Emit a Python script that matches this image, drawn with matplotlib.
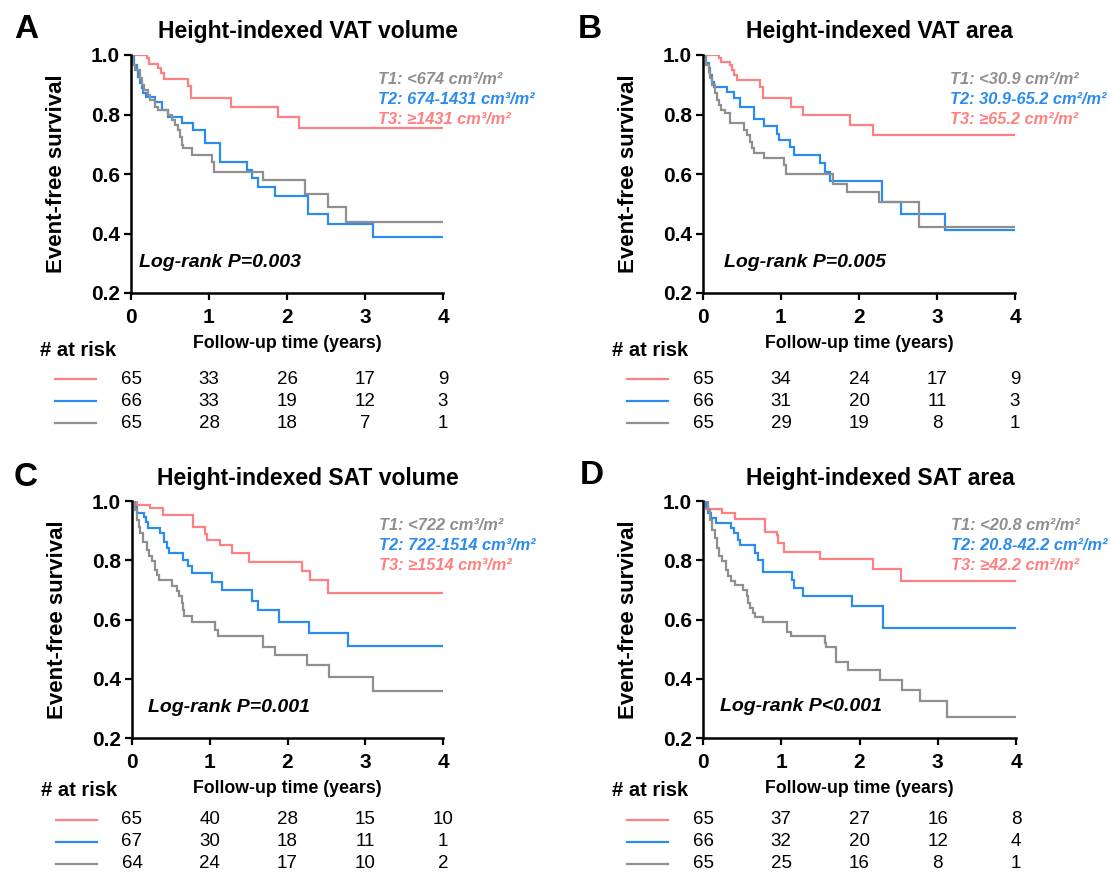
import numpy as np
import matplotlib
matplotlib.use("Agg")
import matplotlib.pyplot as plt
import matplotlib.transforms as mtransforms

plt.rcParams['font.family'] = ['Liberation Sans', 'DejaVu Sans']

# Colours of the three tertiles
c_t1 = '#8f8f8f'
c_t2 = '#2b8cf0'
c_t3 = '#ff8080'

#------------------------------------------------------------------------------
# Kaplan-Meier step data (time in years, survival after each drop)
#------------------------------------------------------------------------------

# Panel A: height-indexed VAT volume
a_t3_time = [0.20, 0.23, 0.35, 0.385, 0.427, 0.726, 0.769, 1.282, 1.89, 2.16]
a_t3_surv = [0.99, 0.97, 0.955, 0.94, 0.92, 0.897, 0.854, 0.826, 0.793, 0.755]
a_t2_time = [0.043, 0.073, 0.094, 0.115, 0.137, 0.158, 0.188, 0.308, 0.402, 0.47, 0.65, 0.80,
             0.949, 1.141, 1.483, 1.547, 1.632, 1.846, 2.27, 2.52, 3.10]
a_t2_surv = [0.966, 0.95, 0.927, 0.905, 0.888, 0.871, 0.86, 0.843, 0.815, 0.793, 0.77, 0.748,
             0.703, 0.641, 0.613, 0.585, 0.557, 0.526, 0.466, 0.433, 0.388]
a_t1_time = [0.03, 0.05, 0.115, 0.137, 0.171, 0.214, 0.244, 0.308, 0.35, 0.479, 0.521, 0.564,
             0.598, 0.628, 0.65, 0.671, 0.778, 1.043, 1.068, 1.697, 2.23, 2.53, 2.76]
a_t1_surv = [0.966, 0.95, 0.922, 0.899, 0.882, 0.866, 0.849, 0.826, 0.815, 0.798, 0.782, 0.765,
             0.748, 0.725, 0.697, 0.686, 0.664, 0.641, 0.608, 0.58, 0.534, 0.489, 0.438]

# Panel B: height-indexed VAT area
b_t3_time = [0.20, 0.23, 0.35, 0.372, 0.402, 0.436, 0.726, 0.769, 1.128, 1.282, 1.89, 2.177]
b_t3_surv = [0.989, 0.978, 0.966, 0.95, 0.934, 0.916, 0.894, 0.854, 0.826, 0.798, 0.765, 0.73]
b_t2_time = [0.043, 0.073, 0.094, 0.115, 0.137, 0.308, 0.393, 0.47, 0.658, 0.778, 0.949, 0.97,
             1.12, 1.162, 1.504, 1.568, 1.632, 2.292, 2.536, 3.104]
b_t2_surv = [0.972, 0.955, 0.933, 0.91, 0.894, 0.877, 0.854, 0.826, 0.785, 0.762, 0.736, 0.714,
             0.692, 0.664, 0.636, 0.608, 0.576, 0.506, 0.464, 0.413]
b_t1_time = [0.043, 0.073, 0.094, 0.115, 0.158, 0.179, 0.20, 0.231, 0.286, 0.342, 0.521, 0.564,
             0.598, 0.628, 0.658, 0.778, 1.043, 1.068, 1.673, 1.844, 2.25, 2.775]
b_t1_surv = [0.966, 0.944, 0.922, 0.899, 0.871, 0.849, 0.832, 0.815, 0.804, 0.77, 0.748, 0.731,
             0.709, 0.686, 0.67, 0.653, 0.63, 0.599, 0.567, 0.539, 0.506, 0.421]

# Panel C: height-indexed SAT volume
c_t3_time = [0.064, 0.235, 0.393, 0.79, 0.94, 0.96, 1.13, 1.28, 1.50, 2.182, 2.289, 2.524]
c_t3_surv = [0.987, 0.975, 0.953, 0.913, 0.89, 0.869, 0.852, 0.824, 0.795, 0.764, 0.735, 0.69]
c_t2_time = [0.034, 0.064, 0.15, 0.18, 0.205, 0.363, 0.406, 0.449, 0.47, 0.662, 0.718, 0.769,
             1.034, 1.154, 1.547, 1.624, 1.889, 2.28, 2.781]
c_t2_surv = [0.981, 0.958, 0.947, 0.93, 0.908, 0.891, 0.863, 0.84, 0.824, 0.802, 0.779, 0.756,
             0.728, 0.70, 0.661, 0.633, 0.593, 0.555, 0.51]
c_t1_time = [0.043, 0.064, 0.085, 0.107, 0.137, 0.192, 0.222, 0.256, 0.299, 0.32, 0.35, 0.513,
             0.577, 0.607, 0.641, 0.662, 0.675, 0.769, 1.068, 1.111, 1.69, 1.84, 2.246, 2.537,
             3.102]
c_t1_surv = [0.97, 0.936, 0.913, 0.891, 0.863, 0.835, 0.813, 0.796, 0.768, 0.751, 0.734, 0.712,
             0.695, 0.678, 0.656, 0.633, 0.612, 0.593, 0.565, 0.543, 0.508, 0.48, 0.446, 0.407,
             0.358]

# Panel D: height-indexed SAT area
d_t3_time = [0.043, 0.248, 0.406, 0.79, 0.94, 0.96, 1.034, 1.496, 2.175, 2.525]
d_t3_surv = [0.972, 0.958, 0.938, 0.897, 0.886, 0.858, 0.829, 0.803, 0.772, 0.73]
d_t2_time = [0.034, 0.064, 0.107, 0.171, 0.363, 0.393, 0.449, 0.47, 0.662, 0.705, 0.769, 1.132,
             1.162, 1.282, 1.902, 2.294]
d_t2_surv = [0.981, 0.958, 0.941, 0.927, 0.908, 0.891, 0.869, 0.852, 0.824, 0.802, 0.762, 0.734,
             0.706, 0.678, 0.644, 0.57]
d_t1_time = [0.064, 0.094, 0.12, 0.15, 0.18, 0.205, 0.248, 0.29, 0.32, 0.363, 0.406, 0.513,
             0.556, 0.577, 0.607, 0.641, 0.662, 0.769, 1.068, 1.12, 1.557, 1.578, 1.706, 1.855,
             2.26, 2.537, 2.772, 3.113]
d_t1_surv = [0.97, 0.936, 0.903, 0.874, 0.841, 0.813, 0.796, 0.768, 0.746, 0.729, 0.717, 0.70,
             0.678, 0.655, 0.638, 0.622, 0.61, 0.593, 0.559, 0.543, 0.519, 0.508, 0.457, 0.429,
             0.396, 0.362, 0.326, 0.27]

#------------------------------------------------------------------------------
# Numbers at risk at 0, 1, 2, 3, 4 years (T3, T2, T1)
#------------------------------------------------------------------------------
risk_years = [0, 1, 2, 3, 4]
a_risk = [[65, 33, 26, 17, 9], [66, 33, 19, 12, 3], [65, 28, 18, 7, 1]]
b_risk = [[65, 34, 24, 17, 9], [66, 31, 20, 11, 3], [65, 29, 19, 8, 1]]
c_risk = [[65, 40, 28, 15, 10], [67, 30, 18, 11, 1], [64, 24, 17, 10, 2]]
d_risk = [[65, 37, 27, 16, 8], [66, 32, 20, 12, 4], [65, 25, 16, 8, 1]]

# Labels
panel_letters = ['A', 'B', 'C', 'D']
panel_titles = ['Height-indexed VAT volume', 'Height-indexed VAT area',
                'Height-indexed SAT volume', 'Height-indexed SAT area']
tertile_labels = [
    ['T1: <674 cm³/m²', 'T2: 674-1431 cm³/m²', 'T3: ≥1431 cm³/m²'],
    ['T1: <30.9 cm²/m²', 'T2: 30.9-65.2 cm²/m²', 'T3: ≥65.2 cm²/m²'],
    ['T1: <722 cm³/m²', 'T2: 722-1514 cm³/m²', 'T3: ≥1514 cm³/m²'],
    ['T1: <20.8 cm²/m²', 'T2: 20.8-42.2 cm²/m²', 'T3: ≥42.2 cm²/m²'],
]
logrank_text = ['Log-rank P=0.003', 'Log-rank P=0.005', 'Log-rank P=0.001', 'Log-rank P<0.001']

curves = [
    [(a_t3_time, a_t3_surv), (a_t2_time, a_t2_surv), (a_t1_time, a_t1_surv)],
    [(b_t3_time, b_t3_surv), (b_t2_time, b_t2_surv), (b_t1_time, b_t1_surv)],
    [(c_t3_time, c_t3_surv), (c_t2_time, c_t2_surv), (c_t1_time, c_t1_surv)],
    [(d_t3_time, d_t3_surv), (d_t2_time, d_t2_surv), (d_t1_time, d_t1_surv)],
]
risks = [a_risk, b_risk, c_risk, d_risk]

#------------------------------------------------------------------------------
# Figure
#------------------------------------------------------------------------------
W, H = 1111, 877
fig = plt.figure(figsize=(W / 100, H / 100), dpi=100)

# axes boxes in pixels: left, top(1.0), right(4), bottom(0.2)
boxes = [(131, 55, 443, 293), (703, 55, 1015, 293),
         (132, 501, 443, 738), (703, 501, 1016, 738)]
letter_pos = [(26, 29), (590, 29), (26, 478), (592, 476)]
logrank_pos = [(0.026, 0.127), (0.067, 0.13), (0.05, 0.13), (0.054, 0.135)]
# pixel rows of the at-risk table: header, T3, T2, T1
risk_rows = [(350, 379, 401, 423), (350, 379, 401, 423),
             (791, 820, 842, 864), (791, 820, 842, 864)]

colors = [c_t3, c_t2, c_t1]
leg_colors = [c_t1, c_t2, c_t3]

for i in range(4):
    l, t, r, b = boxes[i]
    ax = fig.add_axes([l / W, 1 - b / H, (r - l) / W, (b - t) / H])

    for (tt, ss), col in zip(curves[i], colors):
        x = [0] + tt + [4]
        y = [1.0] + ss + [ss[-1]]
        ax.step(x, y, where='post', color=col, lw=1.6, solid_joinstyle='miter')

    ax.set_xlim(0, 4)
    ax.set_ylim(0.2, 1.0)
    ax.set_xticks([0, 1, 2, 3, 4])
    ax.set_yticks([0.2, 0.4, 0.6, 0.8, 1.0])
    ax.set_yticklabels(['0.2', '0.4', '0.6', '0.8', '1.0'])
    for s in ['top', 'right']:
        ax.spines[s].set_visible(False)
    for s in ['left', 'bottom']:
        ax.spines[s].set_linewidth(1.8)
    ax.tick_params(direction='out', length=5, width=1.6, labelsize=15, pad=3)
    ax.tick_params(axis='x', pad=6)
    for lab in ax.get_xticklabels() + ax.get_yticklabels():
        lab.set_fontweight('bold')

    ax.set_ylabel('Event-free survival', fontsize=16, fontweight='bold')
    ax.yaxis.set_label_coords(-0.205, 0.5)
    ax.set_xlabel('Follow-up time (years)', fontsize=12.8, fontweight='bold')
    ax.xaxis.set_label_coords(0.5, -0.178)

    ax.text(0.567, 1.097, panel_titles[i], transform=ax.transAxes, ha='center', va='center',
            fontsize=16.5, fontweight='bold')
    fig.text(letter_pos[i][0] / W, 1 - letter_pos[i][1] / H, panel_letters[i],
             ha='center', va='center', fontsize=24, fontweight='bold')

    for k, (lab, col) in enumerate(zip(tertile_labels[i], leg_colors)):
        ax.text(0.793, 0.897 - k * 0.084, lab, transform=ax.transAxes, ha='left', va='center',
                fontsize=11.8, fontweight='bold', style='italic', color=col)

    ax.text(logrank_pos[i][0], logrank_pos[i][1], logrank_text[i], transform=ax.transAxes,
            ha='left', va='center', fontsize=14, fontweight='bold', style='italic')

    # number at risk table
    rows = risk_rows[i]
    x_off = l - 131
    fig.text((40 + x_off) / W, 1 - rows[0] / H, '# at risk', ha='left', va='center',
             fontsize=14.5, fontweight='bold')
    trans_num = mtransforms.blended_transform_factory(ax.transData, fig.transFigure)
    for k in range(3):
        yk = 1 - rows[k + 1] / H
        fig.add_artist(plt.Line2D([(55 + x_off) / W, (96 + x_off) / W], [yk, yk],
                                  color=colors[k], lw=1.6))
        for yr, n in zip(risk_years, risks[i][k]):
            ax.text(yr, yk, str(n), transform=trans_num, ha='center', va='center',
                    fontsize=13.5, clip_on=False)

fig.savefig('out.png', dpi=100)
